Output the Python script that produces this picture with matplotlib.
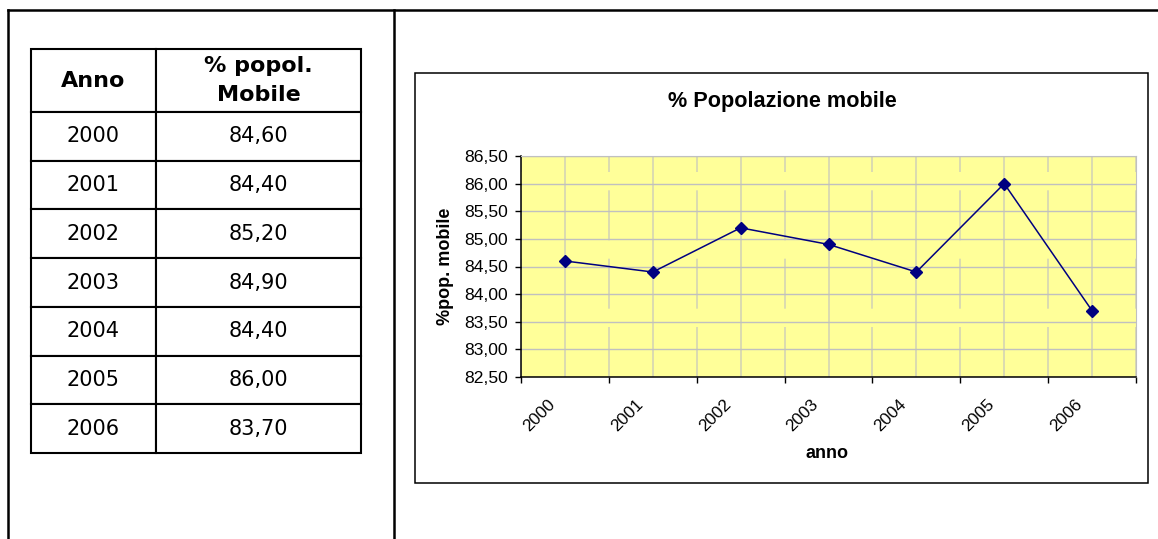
import matplotlib
matplotlib.use("Agg")
import matplotlib.pyplot as plt
from matplotlib.lines import Line2D
from matplotlib.patches import Rectangle
from matplotlib.ticker import FixedLocator, FuncFormatter
from matplotlib.transforms import ScaledTranslation

# Dati
anni = ["2000", "2001", "2002", "2003", "2004", "2005", "2006"]
pop_mobile = [84.60, 84.40, 85.20, 84.90, 84.40, 86.00, 83.70]
intestazioni = ["Anno", "% popol.\nMobile"]
y_ticks = [82.5, 83.0, 83.5, 84.0, 84.5, 85.0, 85.5, 86.0, 86.5]

W, H = 1158, 539
fig = plt.figure(figsize=(W / 100, H / 100), dpi=100)

def fx(px):
    return px / W

def fy(py):
    return 1 - py / H

# Sfondo / cornici pagina
bg = fig.add_axes([0, 0, 1, 1])
bg.axis('off')
bg.set_xlim(0, W)
bg.set_ylim(H, 0)
bg.add_line(Line2D([8, W], [10, 10], color='black', lw=1.8))
bg.add_line(Line2D([8, 8], [10, H], color='black', lw=1.8))
bg.add_line(Line2D([394, 394], [10, H], color='black', lw=1.8))

# Tabella
testo_celle = [[a, f"{v:.2f}".replace(".", ",")] for a, v in zip(anni, pop_mobile)]
tabella = bg.table(
    cellText=testo_celle,
    colLabels=intestazioni,
    cellLoc='center',
    colWidths=[125, 205],
    bbox=[fx(31), fy(453), fx(361) - fx(31), fy(49) - fy(453)],
)
tabella.auto_set_font_size(False)
h_riga = 48.7
for (row, col), cell in tabella.get_celld().items():
    cell.set_edgecolor('black')
    cell.set_linewidth(1.5)
    if row == 0:
        cell.set_height(63 / h_riga * 0.1)
        cell.set_text_props(fontsize=16, weight='bold', family='DejaVu Sans',
                            linespacing=1.6)
    else:
        cell.set_height(0.1)
        cell.set_text_props(fontsize=15, family='DejaVu Sans')

# Riquadro grafico
fig.patches.append(Rectangle((fx(415), fy(483)), fx(1148) - fx(415), fy(73) - fy(483),
                             transform=fig.transFigure, fill=False,
                             edgecolor='black', lw=1.1, zorder=1))

fig.text(fx(782.5), fy(102), "% Popolazione mobile", ha='center', va='center',
         fontsize=15.6, weight='bold', family='Liberation Sans')

ax = fig.add_axes([fx(521), fy(377), fx(1136) - fx(521), fy(156) - fy(377)])
ax.set_facecolor('#FFFF99')
x = list(range(len(anni)))
ax.plot(x, pop_mobile, color='#000080', lw=1.1, marker='D', markersize=6,
        markerfacecolor='#000080', markeredgecolor='#000080', zorder=3)

ax.set_xlim(-0.5, len(anni) - 0.5)
ax.set_ylim(y_ticks[0], y_ticks[-1])
ax.set_yticks(y_ticks)
ax.yaxis.set_major_formatter(FuncFormatter(lambda v, p: f"{v:.2f}".replace(".", ",")))

ax.xaxis.set_major_locator(FixedLocator([i - 0.5 for i in range(len(anni) + 1)]))
ax.xaxis.set_minor_locator(FixedLocator(x))
ax.set_xticklabels([], minor=False)
ax.set_xticklabels(anni, minor=True)

ax.grid(axis='y', color='#C0C0C0', lw=1)
ax.grid(axis='x', which='minor', color='#D4D4B4', lw=1.2)
ax.grid(axis='x', which='major', color='#D4D4B4', lw=1.2, linestyle=(0, (30, 11)))
ax.set_axisbelow(True)

ax.tick_params(axis='y', direction='out', length=4.3, width=1, pad=5,
               labelsize=12.6, color='black')
ax.tick_params(axis='x', which='major', direction='out', length=4.3, width=1)
ax.tick_params(axis='x', which='minor', length=0, pad=14, labelsize=12.3)
for lbl in ax.get_xticklabels(minor=True):
    lbl.set_rotation(45)
    lbl.set_ha('right')
    lbl.set_transform(lbl.get_transform() + ScaledTranslation(-0.07, 0, fig.dpi_scale_trans))
for lbl in ax.get_xticklabels(minor=True) + ax.get_yticklabels():
    lbl.set_family('Liberation Sans')

for s in ['top', 'right']:
    ax.spines[s].set_color('#C0C0C0')
for s in ['left', 'bottom']:
    ax.spines[s].set_color('black')
    ax.spines[s].set_linewidth(1.1)

ax.set_xlabel("anno", fontsize=13, weight='bold', family='Liberation Sans')
ax.xaxis.set_label_coords(0.497, (377 - 453) / 221)
ax.xaxis.label.set_va('center')
ax.set_ylabel("%pop. mobile", fontsize=13, weight='bold', family='Liberation Sans')
ax.yaxis.set_label_coords((445 - 521) / 615, 0.5)
ax.yaxis.label.set_va('center')

fig.savefig("out.png", dpi=100)
